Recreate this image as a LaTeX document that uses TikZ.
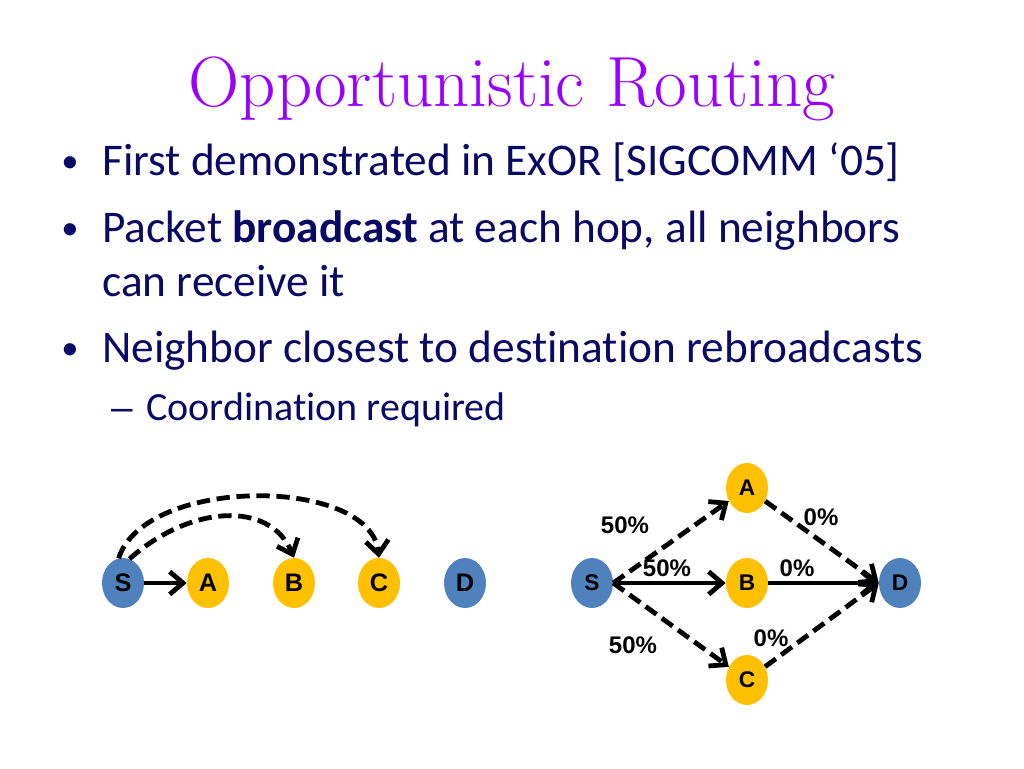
\documentclass[tikz,border=0pt]{standalone}
\usepackage{fontspec}
\newfontfamily\bodyfont{Carlito}[Ligatures={NoCommon}]
\newfontfamily\arialfont{Liberation Sans}
\usetikzlibrary{shapes.geometric,arrows.meta}
\definecolor{tpurple}{RGB}{153,0,255}
\definecolor{navy}{RGB}{10,10,100}
\definecolor{nblue}{RGB}{79,129,189}
\definecolor{ngold}{RGB}{255,192,0}
\begin{document}
\begin{tikzpicture}[x=0.75pt,y=-0.75pt,
  txt/.style={anchor=base west, inner sep=0, text=navy, font=\bodyfont\fontsize{34}{40}\selectfont},
  subtxt/.style={anchor=base west, inner sep=0, text=navy, font=\bodyfont\fontsize{30}{36}\selectfont},
  subdash/.style={anchor=base west, inner sep=0, text=navy, font=\arialfont\fontsize{29}{36}\selectfont},
  bul/.style={anchor=base, inner sep=0, text=navy, font=\bodyfont\fontsize{26}{30}\selectfont},
  nodebase/.style={ellipse, minimum width=31.5pt, minimum height=37.5pt, inner sep=0pt},
  nbl/.style={nodebase, fill=nblue, font=\arialfont\bfseries\fontsize{19}{19}\selectfont},
  ngl/.style={nodebase, fill=ngold, font=\arialfont\bfseries\fontsize{19}{19}\selectfont},
  nbr/.style={nodebase, fill=nblue, font=\arialfont\bfseries\fontsize{17}{17}\selectfont},
  ngr/.style={nodebase, fill=ngold, font=\arialfont\bfseries\fontsize{17}{17}\selectfont},
  lbl/.style={inner sep=0pt, font=\arialfont\bfseries\fontsize{18}{18}\selectfont},
  arr/.style={line width=3.6pt, -{Straight Barb[length=10pt,width=17pt]}},
  dsh/.style={dash pattern=on 10pt off 5pt}
]
\useasboundingbox (0,0) rectangle (1024,768);
\fill[white] (0,0) rectangle (1024,768);

% title
\node[anchor=base, inner sep=0, text=tpurple, font=\fontsize{53.3}{62}\selectfont] (title) at (512,106) {Opportunistic Routing};

% bullets
\node[bul] (b1) at (70,172) {•};
\node[txt] (t1) at (102,175) {First demonstrated in ExOR [SIGCOMM ‘05]};
\node[bul] (b2) at (70,239) {•};
\node[txt] (t2) at (102,242) {Packet \textbf{broadcast} at each hop, all neighbors};
\node[txt] (t2b) at (102,296) {can receive it};
\node[bul] (b3) at (70,359) {•};
\node[txt] (t3) at (102,362) {Neighbor closest to destination rebroadcasts};
\node[subdash] (s1) at (111,420) {–};
\node[subtxt] (t4) at (146,420) {Coordination required};

% left diagram
\node[nbl] (Sl) at (123,583) {S};
\node[ngl] (Al) at (208,583) {A};
\node[ngl] (Bl) at (294,583) {B};
\node[ngl] (Cl) at (379,583) {C};
\node[nbl] (Dl) at (465,583) {D};
\draw[arr] (Sl) -- (Al);
\draw[arr,dsh] (Sl.75) .. controls (190,505) and (270,500) .. (Bl.north);
\draw[arr,dsh] (Sl.100) .. controls (145,476) and (370,476) .. (Cl.north);

% right diagram
\node[nbr] (Sr) at (592,583) {S};
\node[ngr] (Ar) at (747,488) {A};
\node[ngr] (Br) at (747,583) {B};
\node[ngr] (Cr) at (747,680) {C};
\node[nbr] (Dr) at (900,583) {D};
\draw[arr,dsh] (Sr.east) -- (Ar);
\draw[arr] (Sr.east) -- (Br);
\draw[arr,dsh] (Sr.east) -- (Cr);
\draw[arr,dsh] (Ar) -- (Dr.west);
\draw[arr] (Br) -- (Dr.west);
\draw[arr,dsh] (Cr) -- (Dr.west);

\node[lbl] (p1) at (625,525) {50\%};
\node[lbl] (p2) at (667,568) {50\%};
\node[lbl] (p3) at (633,645) {50\%};
\node[lbl] (q1) at (821,517) {0\%};
\node[lbl] (q2) at (797,568) {0\%};
\node[lbl] (q3) at (771,638) {0\%};
\end{tikzpicture}
\end{document}
